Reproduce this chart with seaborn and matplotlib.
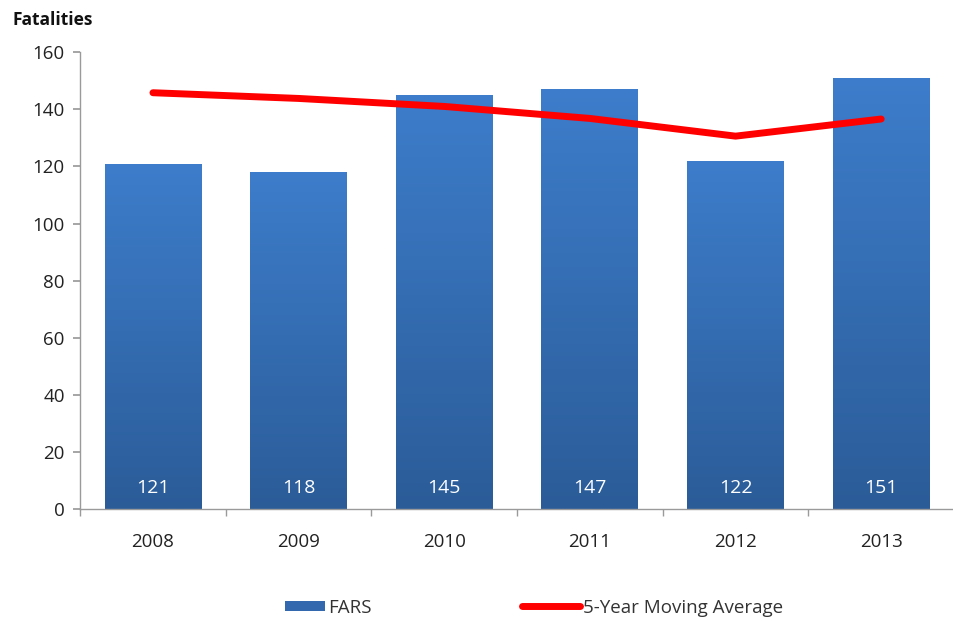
import numpy as np
import pandas as pd
import seaborn as sns
import matplotlib.pyplot as plt
from matplotlib.colors import LinearSegmentedColormap
from matplotlib.lines import Line2D
from matplotlib.patches import Patch

years = ["2008", "2009", "2010", "2011", "2012", "2013"]
fars = [121, 118, 145, 147, 122, 151]
moving_avg = [145.8, 143.8, 141.0, 136.8, 130.6, 136.6]

sns.set_theme(style="white")
plt.rcParams["font.family"] = ["Open Sans", "DejaVu Sans"]

fig = plt.figure(figsize=(9.54, 6.21), dpi=100)
ax = fig.add_axes([0.084, 0.180, 0.916, 0.736])

df = pd.DataFrame({"year": years, "FARS": fars, "avg": moving_avg})
sns.barplot(data=df, x="year", y="FARS", color="#3A78C4", width=0.665,
            saturation=1, ax=ax, zorder=2)

# vertical gradient on each bar (lighter at top, darker at bottom)
cmap = LinearSegmentedColormap.from_list("bar", ["#2B5C98", "#3D7DCB"])
grad = np.linspace(0, 1, 256).reshape(-1, 1)
for p in ax.patches:
    x0, w, h = p.get_x(), p.get_width(), p.get_height()
    im = ax.imshow(grad, cmap=cmap, origin="lower", aspect="auto",
                   extent=[x0, x0 + w, 0, h], zorder=2.1)
    im.set_clip_path(p)
    ax.text(x0 + w / 2, 7.3, f"{int(h)}", ha="center", va="center",
            color="white", fontsize=14, zorder=3)

ax.plot(range(len(years)), moving_avg, color="#FF0000", lw=5,
        solid_capstyle="round", zorder=4)

ax.set_xlim(-0.5, len(years) - 0.5)
ax.set_ylim(0, 160)
ax.set_yticks(range(0, 161, 20))
ax.set_xlabel("")
ax.set_ylabel("")

for s in ["top", "right"]:
    ax.spines[s].set_visible(False)
for s in ["left", "bottom"]:
    ax.spines[s].set_color("#9A9A9A")
    ax.spines[s].set_linewidth(1)

ax.tick_params(axis="y", left=True, length=5, color="#9A9A9A",
               labelsize=13.5, labelcolor="#222222", pad=6)
ax.tick_params(axis="x", bottom=False, labelsize=13.5, labelcolor="#222222",
               pad=11)
# category separator ticks on x axis
ax.set_xticks(np.arange(-0.5, len(years), 1), minor=True)
ax.tick_params(axis="x", which="minor", bottom=True, length=5,
               color="#9A9A9A")

fig.text(0.013, 0.967, "Fatalities", fontsize=12.5, fontweight="bold",
         color="#111111", ha="left", va="center")

ly = 1 - 608 / 621
leg1 = fig.legend([Patch(facecolor="#3468AE", edgecolor="none")], ["FARS"],
                  loc="center left", bbox_to_anchor=(285 / 954, ly),
                  frameon=False, fontsize=13.5, borderpad=0, borderaxespad=0,
                  handlelength=2.15, handleheight=0.45, handletextpad=0.15,
                  labelcolor="#333333")
leg2 = fig.legend([Line2D([], [], color="#FF0000", lw=5, solid_capstyle="round")],
                  ["5-Year Moving Average"],
                  loc="center left", bbox_to_anchor=(522 / 954, ly),
                  frameon=False, fontsize=13.5, borderpad=0, borderaxespad=0,
                  handlelength=3.1, handletextpad=0.15, labelcolor="#333333")

fig.savefig("out.png", dpi=100)
